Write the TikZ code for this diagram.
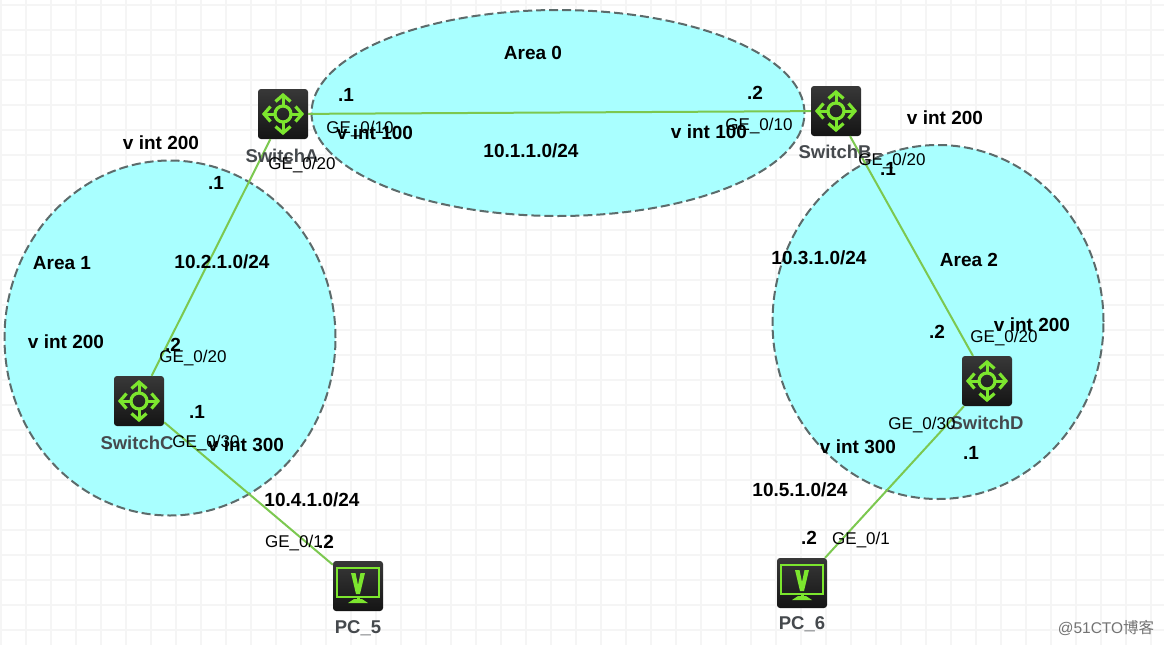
\documentclass[tikz,border=0pt]{standalone}
\usepackage{fontspec}
\setmainfont{Liberation Sans}
\newfontfamily\cjkfont{Noto Sans CJK SC}
\usepackage{xcolor}
\usepackage{tikz}
\usetikzlibrary{shapes.geometric}
\definecolor{areafill}{HTML}{A9FFFF}
\definecolor{areaedge}{HTML}{5C6B6B}
\definecolor{linkgreen}{HTML}{7CC850}
\definecolor{icongreen}{HTML}{7CE62E}
\definecolor{gridgray}{HTML}{F5F5F5}
\definecolor{devtext}{HTML}{45494D}
\tikzset{
	area/.style={ % Ovals behind the devices
			ellipse,
			draw=areaedge,
			fill=areafill,
			line width=2pt,
			dash pattern=on 9pt off 4pt,
			inner sep=0pt
		},
	device/.style={ % Dark icon box
			rectangle,
			rounded corners=3pt,
			minimum size=50pt,
			inner sep=0pt,
			top color=black!78,
			bottom color=black!92
		},
	link/.style={
			draw=linkgreen,
			line width=2pt
		},
	title/.style={font=\fontsize{19}{19}\selectfont\bfseries, inner sep=0pt, yshift=-1pt},
	port/.style={font=\fontsize{17}{17}\selectfont, inner sep=0pt, yshift=-1.5pt},
	devname/.style={font=\fontsize{18.5}{19}\selectfont\bfseries, text=devtext, inner sep=0pt, yshift=-1pt},
	swicon/.pic={
			\draw[icongreen, line width=3.2pt] (0,0) circle (8);
			\foreach \ang in {0,90,180,270} {
					\begin{scope}[rotate=\ang]
						\draw[icongreen, line width=3pt] (9,0) -- (18,0);
						\draw[icongreen, line width=3.2pt, line join=miter] (12.5,-7.5) -- (19,0) -- (12.5,7.5);
					\end{scope}
				}
		},
	pcicon/.pic={
			\draw[icongreen, line width=2.4pt] (-21,-18) rectangle (21,11);
			\fill[icongreen] (-7,-13) -- (-2.5,-13) -- (0,-1) -- (2.5,-13) -- (7,-13) -- (2,8) -- (-2,8) -- cycle;
			\fill[icongreen] (-1.5,11) rectangle (1.5,15);
			\fill[icongreen] (-4,13) -- (4,13) -- (10,17) -- (-10,17) -- cycle;
		}
}
\begin{document}
\begin{tikzpicture}[x=1pt,y=-1pt]
	\useasboundingbox (0,0) rectangle (1164,645);
	\fill[white] (0,0) rectangle (1164,645);
	\foreach \gx in {1,26,...,1151}
	\draw[gridgray, line width=1.5pt] (\gx,0) -- (\gx,645);
	\foreach \gy in {5,30,...,630}
	\draw[gridgray, line width=1.5pt] (0,\gy) -- (1164,\gy);

	\node (area0) [area, minimum width=493pt, minimum height=206pt] at (558,113) {};
	\node (area1) [area, minimum width=331pt, minimum height=355pt] at (170,338) {};
	\node (area2) [area, minimum width=331pt, minimum height=354pt] at (938,322) {};

	\node (switchA) [device] at (283,114) {};
	\node (switchB) [device] at (836,111) {};
	\node (switchC) [device] at (139,401) {};
	\node (switchD) [device] at (987,381) {};
	\node (pc5) [device] at (358,586) {};
	\node (pc6) [device] at (802,583) {};

	\pic at (switchA) {swicon};
	\pic at (switchB) {swicon};
	\pic at (switchC) {swicon};
	\pic at (switchD) {swicon};
	\pic at (pc5) {pcicon};
	\pic at (pc6) {pcicon};

	\draw[link] (switchA) -- (switchB);
	\draw[link] (switchA) -- (switchC);
	\draw[link] (switchB) -- (switchD);
	\draw[link] (switchC) -- (pc5);
	\draw[link] (switchD) -- (pc6);

	\node (nameA) [devname] at (282,155) {SwitchA};
	\node (nameB) [devname] at (835,151) {SwitchB};
	\node (nameC) [devname] at (137,442) {SwitchC};
	\node (nameD) [devname] at (987,422) {SwitchD};
	\node (namePc5) [devname] at (358,627) {PC\_5};
	\node (namePc6) [devname] at (802,623) {PC\_6};

	% area 0
	\node (titleA0) [title] at (533,52) {Area 0};
	\node (netA0) [title] at (531,150) {10.1.1.0/24};
	\node (ipA) [title] at (346,94) {.1};
	\node (ipB) [title] at (755,92) {.2};
	\node (portA10) [port] at (360,128) {GE\_0/10};
	\node (vlanA100) [title] at (375,132) {v int 100};
	\node (vlanB100) [title] at (709,131) {v int 100};
	\node (portB10) [port] at (759,125) {GE\_0/10};

	% area 1
	\node (titleA1) [title] at (62,262) {Area 1};
	\node (netA1) [title] at (222,261) {10.2.1.0/24};
	\node (vlanA200) [title] at (161,142) {v int 200};
	\node (portA20) [port] at (302,164) {GE\_0/20};
	\node (ipA20) [title] at (216,182) {.1};
	\node (vlanC200) [title] at (66,341) {v int 200};
	\node (ipC20) [title] at (173,344) {.2};
	\node (portC20) [port] at (193,357) {GE\_0/20};
	\node (ipC30) [title] at (197,411) {.1};
	\node (portC30) [port] at (206,442) {GE\_0/30};
	\node (vlanC300) [title] at (246,444) {v int 300};
	\node (netC5) [title] at (312,499) {10.4.1.0/24};
	\node (portP5) [port] at (294,542) {GE\_0/1};
	\node (ipP5) [title] at (326,541) {.2};

	% area 2
	\node (titleA2) [title] at (969,259) {Area 2};
	\node (netA2) [title] at (819,257) {10.3.1.0/24};
	\node (vlanB200) [title] at (945,117) {v int 200};
	\node (portB20) [port] at (892,160) {GE\_0/20};
	\node (ipB20) [title] at (888,168) {.1};
	\node (ipD20) [title] at (937,331) {.2};
	\node (vlanD200) [title] at (1032,324) {v int 200};
	\node (portD20) [port] at (1004,337) {GE\_0/20};
	\node (portD30) [port] at (922,424) {GE\_0/30};
	\node (vlanD300) [title] at (858,446) {v int 300};
	\node (ipD30) [title] at (971,452) {.1};
	\node (netD6) [title] at (800,489) {10.5.1.0/24};
	\node (ipP6) [title] at (809,537) {.2};
	\node (portP6) [port] at (861,539) {GE\_0/1};

	\node (mark) [inner sep=0pt, text=black!55, font=\fontsize{15.5}{16}\selectfont] at (1106,628) {@51CTO{\cjkfont 博客}};
\end{tikzpicture}
\end{document}
